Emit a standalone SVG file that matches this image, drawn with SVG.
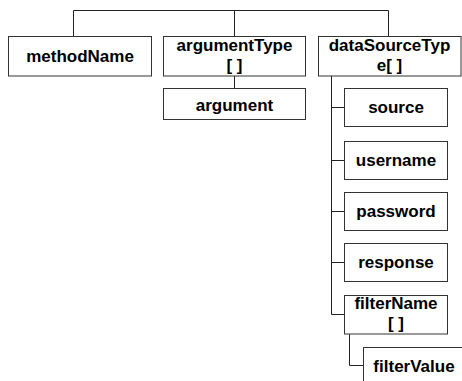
<svg xmlns="http://www.w3.org/2000/svg" width="462" height="381" viewBox="0 0 462 381">
<style>
.box{fill:#fff;stroke:#333;stroke-width:1}
.t{font-family:"Liberation Sans",Arial,sans-serif;font-weight:bold;font-size:17px;fill:#000;text-anchor:middle}
.c{fill:none;stroke:#222;stroke-width:1}
</style>
<rect width="462" height="381" fill="#fff"/>
<g id="connectors">
<polyline class="c" points="73.5,36 73.5,10.5 388.5,10.5 388.5,36"/>
<line class="c" x1="234.5" y1="10.5" x2="234.5" y2="36"/>
<line class="c" x1="234.5" y1="76" x2="234.5" y2="88"/>
<line class="c" x1="331.5" y1="76" x2="331.5" y2="314.5"/>
<line class="c" x1="331.5" y1="107.5" x2="344" y2="107.5"/>
<line class="c" x1="331.5" y1="160.5" x2="344" y2="160.5"/>
<line class="c" x1="331.5" y1="211.5" x2="344" y2="211.5"/>
<line class="c" x1="331.5" y1="262.5" x2="344" y2="262.5"/>
<line class="c" x1="331.5" y1="314.5" x2="344" y2="314.5"/>
<polyline class="c" points="349.5,334 349.5,365.5 363,365.5"/>
</g>
<g id="methodName"><rect class="box" x="8.5" y="36.5" width="143" height="39.5"/><text class="t" x="80" y="62">methodName</text></g>
<g id="argumentType"><rect class="box" x="163.5" y="36.5" width="142" height="39.5"/><text class="t" x="234.5" y="51">argumentType</text><text class="t" x="234.5" y="71">[ ]</text></g>
<g id="dataSourceType"><rect class="box" x="318.5" y="36.5" width="142.5" height="39.5"/><text class="t" x="389.5" y="51">dataSourceTyp</text><text class="t" x="389.5" y="71">e[ ]</text></g>
<g id="argument"><rect class="box" x="163.5" y="88.5" width="142" height="31"/><text class="t" x="234.5" y="111">argument</text></g>
<g id="source"><rect class="box" x="344.5" y="88.5" width="103" height="38"/><text class="t" x="396" y="113">source</text></g>
<g id="username"><rect class="box" x="344.5" y="141.5" width="103" height="38"/><text class="t" x="396" y="166">username</text></g>
<g id="password"><rect class="box" x="344.5" y="192.5" width="103" height="38"/><text class="t" x="396" y="217">password</text></g>
<g id="response"><rect class="box" x="344.5" y="243.5" width="103" height="38"/><text class="t" x="396" y="268">response</text></g>
<g id="filterName"><rect class="box" x="344.5" y="295.5" width="103" height="38.5"/><text class="t" x="396" y="309">filterName</text><text class="t" x="396" y="329">[ ]</text></g>
<g id="filterValue"><rect class="box" x="363.5" y="347.5" width="103" height="38"/><text class="t" x="414" y="372">filterValue</text></g>
</svg>
